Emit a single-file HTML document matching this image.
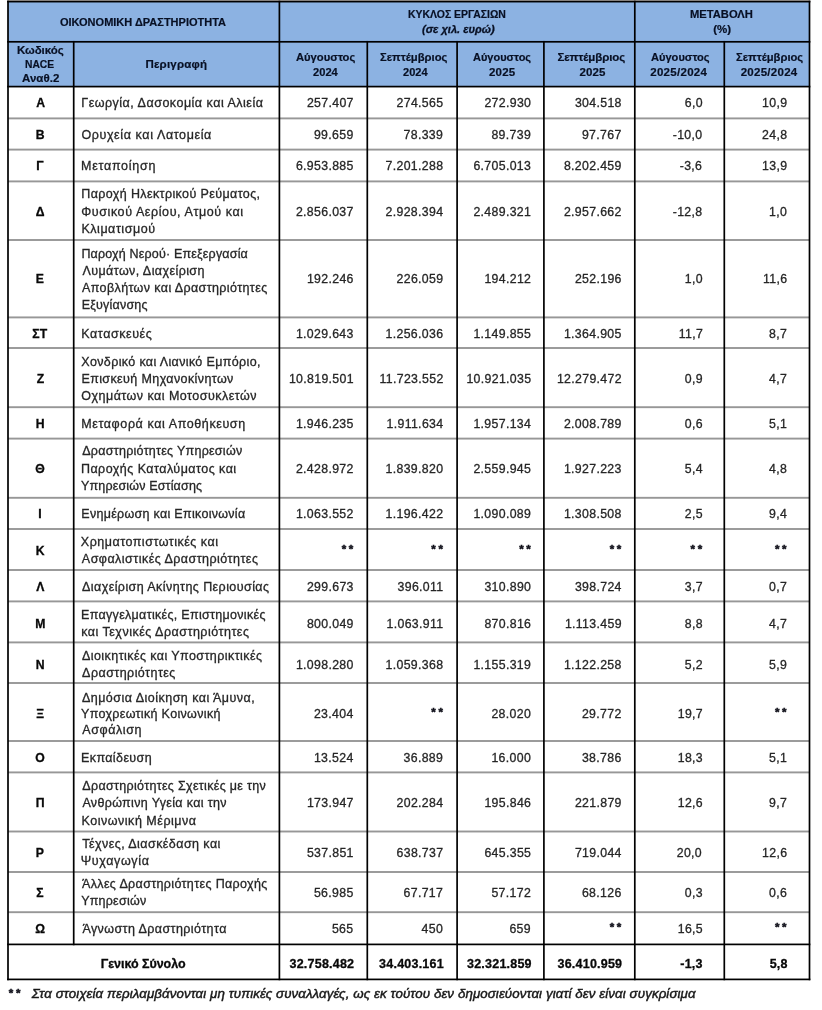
<!DOCTYPE html>
<html lang="el">
<head>
<meta charset="utf-8">
<title>Κύκλος Εργασιών ανά Οικονομική Δραστηριότητα</title>
<style>
html,body{margin:0;padding:0;background:#fff}
body{width:822px;height:1010px;position:relative;overflow:hidden;font-family:"Liberation Sans",sans-serif;color:#222}
#t{position:absolute;left:0;top:0;width:822px;height:1010px;filter:blur(0.55px)}
#grid{position:absolute;left:0;top:0}
.x{position:absolute;white-space:nowrap;line-height:20px;height:20px;transform-origin:0 50%}
.td{font-size:12.5px;font-weight:normal;font-style:normal;color:#262626;-webkit-text-stroke:0.3px #262626}
.tn{font-size:12.3px;font-weight:normal;font-style:normal;color:#262626;-webkit-text-stroke:0.3px #262626}
.tk{font-size:12.2px;font-weight:bold;font-style:normal;color:#080808;-webkit-text-stroke:0.3px #080808}
.th{font-size:11.5px;font-weight:bold;font-style:normal;color:#081024;-webkit-text-stroke:0.2px #081024}
.ti{font-size:11.5px;font-weight:bold;font-style:italic;color:#081024;-webkit-text-stroke:0.3px #081024}
.tt{font-size:12.5px;font-weight:bold;font-style:normal;color:#080808;-webkit-text-stroke:0.3px #080808}
.ts{font-size:11.5px;font-weight:bold;font-style:normal;color:#10101a;-webkit-text-stroke:0.5px #10101a}
.tf{font-size:13.3px;font-weight:normal;font-style:italic;color:#181818;-webkit-text-stroke:0.45px #181818}
</style>
</head>
<body>
<div id="t">
<svg id="grid" width="822" height="1010" viewBox="0 0 822 1010">
<rect x="7.2" y="0" width="803.1" height="1.2" fill="#b5aea8"/>
<rect x="8" y="1.6" width="801.5" height="85" fill="#8cb2e2"/>
<g fill="#979797">
<rect x="8" y="117.45" width="801.5" height="1.9"/>
<rect x="8" y="148.65" width="801.5" height="1.9"/>
<rect x="8" y="180.45" width="801.5" height="1.9"/>
<rect x="8" y="239.05" width="801.5" height="1.9"/>
<rect x="8" y="316.45" width="801.5" height="1.9"/>
<rect x="8" y="347.05" width="801.5" height="1.9"/>
<rect x="8" y="406.25" width="801.5" height="1.9"/>
<rect x="8" y="437.65" width="801.5" height="1.9"/>
<rect x="8" y="496.85" width="801.5" height="1.9"/>
<rect x="8" y="528.05" width="801.5" height="1.9"/>
<rect x="8" y="569.05" width="801.5" height="1.9"/>
<rect x="8" y="600.45" width="801.5" height="1.9"/>
<rect x="8" y="641.45" width="801.5" height="1.9"/>
<rect x="8" y="682.05" width="801.5" height="1.9"/>
<rect x="8" y="740.05" width="801.5" height="1.9"/>
<rect x="8" y="771.45" width="801.5" height="1.9"/>
<rect x="8" y="830.55" width="801.5" height="1.9"/>
<rect x="8" y="871.05" width="801.5" height="1.9"/>
<rect x="8" y="911.25" width="801.5" height="1.9"/>
</g>
<g fill="#000">
<rect x="7.15" y="0.75" width="803.2" height="1.7"/>
<rect x="7.15" y="40.95" width="803.2" height="1.7"/>
<rect x="7.15" y="85.75" width="803.2" height="1.7"/>
<rect x="7.15" y="943.55" width="803.2" height="1.7"/>
<rect x="7.15" y="978.55" width="803.2" height="1.7"/>
<rect x="7.15" y="0.75" width="1.7" height="979.5"/>
<rect x="72.85" y="40.95" width="1.7" height="904.3"/>
<rect x="278.55" y="0.75" width="1.7" height="979.5"/>
<rect x="366.45" y="40.95" width="1.7" height="939.3"/>
<rect x="456.25" y="40.95" width="1.7" height="939.3"/>
<rect x="543.05" y="40.95" width="1.7" height="939.3"/>
<rect x="633.95" y="0.75" width="1.7" height="979.5"/>
<rect x="723.45" y="40.95" width="1.7" height="939.3"/>
<rect x="808.65" y="0.75" width="1.7" height="979.5"/>
</g>
</svg>
<div class="hr">
<span class="x th" style="left:60.14px;top:12px;transform:scaleX(0.957)">ΟΙΚΟΝΟΜΙΚΗ ΔΡΑΣΤΗΡΙΟΤΗΤΑ</span>
<span class="x th" style="left:407.59px;top:4px;transform:scaleX(0.9094)">ΚΥΚΛΟΣ ΕΡΓΑΣΙΩΝ</span>
<span class="x ti" style="left:422.3px;top:19px;transform:scaleX(0.964)">(σε χιλ. ευρώ)</span>
<span class="x th" style="left:689.93px;top:4px;transform:scaleX(0.973)">ΜΕΤΑΒΟΛΗ</span>
<span class="x th" style="left:713.15px;top:19px;letter-spacing:0.05px">(%)</span>
</div>
<div class="hr">
<span class="x th" style="left:16.98px;top:40px;letter-spacing:-0.03px">Κωδικός</span>
<span class="x th" style="left:25.41px;top:54px;transform:scaleX(0.8935)">NACE</span>
<span class="x th" style="left:22.08px;top:68px;letter-spacing:0.01px">Αναθ.2</span>
<span class="x th" style="left:145.45px;top:54px;letter-spacing:0.21px">Περιγραφή</span>
<span class="x th" style="left:296.3px;top:47px;transform:scaleX(0.975)">Αύγουστος</span>
<span class="x th" style="left:312.7px;top:62px;transform:scaleX(0.9692)">2024</span>
<span class="x th" style="left:379.92px;top:47px;transform:scaleX(0.9791)">Σεπτέμβριος</span>
<span class="x th" style="left:402.6px;top:62px;transform:scaleX(0.9615)">2024</span>
<span class="x th" style="left:473.2px;top:47px;transform:scaleX(0.955)">Αύγουστος</span>
<span class="x th" style="left:489.1px;top:62px;letter-spacing:0.13px">2025</span>
<span class="x th" style="left:557.45px;top:47px;letter-spacing:-0.11px">Σεπτέμβριος</span>
<span class="x th" style="left:579.5px;top:62px;letter-spacing:0.13px">2025</span>
<span class="x th" style="left:650.5px;top:47px;transform:scaleX(0.9633)">Αύγουστος</span>
<span class="x th" style="left:650.2px;top:62px;letter-spacing:0.3px">2025/2024</span>
<span class="x th" style="left:735.52px;top:47px;transform:scaleX(0.9761)">Σεπτέμβριος</span>
<span class="x th" style="left:740.7px;top:62px;letter-spacing:0.27px">2025/2024</span>
</div>
<div class="row">
<span class="x tk" style="left:36.3px;top:93px;letter-spacing:0.2px">Α</span>
<span class="x td" style="left:81.25px;top:93px;letter-spacing:0.5px">Γεωργία, Δασοκομία και Αλιεία</span>
<span class="x tn" style="left:306.9px;top:93px;letter-spacing:0.35px">257.407</span>
<span class="x tn" style="left:396.5px;top:93px;letter-spacing:0.35px">274.565</span>
<span class="x tn" style="left:484.4px;top:93px;letter-spacing:0.35px">272.930</span>
<span class="x tn" style="left:574.9px;top:93px;letter-spacing:0.35px">304.518</span>
<span class="x tn" style="left:684.7px;top:93px;letter-spacing:0.35px">6,0</span>
<span class="x tn" style="left:762.1px;top:93px;letter-spacing:0.35px">10,9</span>
</div>
<div class="row">
<span class="x tk" style="left:35.8px;top:125px;letter-spacing:0.2px">Β</span>
<span class="x td" style="left:81.45px;top:125px;letter-spacing:0.61px">Ορυχεία και Λατομεία</span>
<span class="x tn" style="left:313.9px;top:125px;letter-spacing:0.35px">99.659</span>
<span class="x tn" style="left:403.5px;top:125px;letter-spacing:0.35px">78.339</span>
<span class="x tn" style="left:491.4px;top:125px;letter-spacing:0.35px">89.739</span>
<span class="x tn" style="left:581.9px;top:125px;letter-spacing:0.35px">97.767</span>
<span class="x tn" style="left:672.7px;top:125px;letter-spacing:0.35px">-10,0</span>
<span class="x tn" style="left:762.1px;top:125px;letter-spacing:0.35px">24,8</span>
</div>
<div class="row">
<span class="x tk" style="left:36.3px;top:156px;letter-spacing:0.2px">Γ</span>
<span class="x td" style="left:81px;top:156px;letter-spacing:0.73px">Μεταποίηση</span>
<span class="x tn" style="left:295.9px;top:156px;letter-spacing:0.35px">6.953.885</span>
<span class="x tn" style="left:385.5px;top:156px;letter-spacing:0.35px">7.201.288</span>
<span class="x tn" style="left:473.4px;top:156px;letter-spacing:0.35px">6.705.013</span>
<span class="x tn" style="left:563.9px;top:156px;letter-spacing:0.35px">8.202.459</span>
<span class="x tn" style="left:679.7px;top:156px;letter-spacing:0.35px">-3,6</span>
<span class="x tn" style="left:762.1px;top:156px;letter-spacing:0.35px">13,9</span>
</div>
<div class="row">
<span class="x tk" style="left:35.8px;top:202px;letter-spacing:0.2px">Δ</span>
<span class="x td" style="left:81.25px;top:184px;letter-spacing:0.39px">Παροχή Ηλεκτρικού Ρεύματος,</span>
<span class="x td" style="left:81.25px;top:202px;letter-spacing:0.59px">Φυσικού Αερίου, Ατμού και</span>
<span class="x td" style="left:81.4px;top:219px;letter-spacing:0.54px">Κλιματισμού</span>
<span class="x tn" style="left:295.9px;top:202px;letter-spacing:0.35px">2.856.037</span>
<span class="x tn" style="left:385.5px;top:202px;letter-spacing:0.35px">2.928.394</span>
<span class="x tn" style="left:473.4px;top:202px;letter-spacing:0.35px">2.489.321</span>
<span class="x tn" style="left:563.9px;top:202px;letter-spacing:0.35px">2.957.662</span>
<span class="x tn" style="left:672.7px;top:202px;letter-spacing:0.35px">-12,8</span>
<span class="x tn" style="left:769.1px;top:202px;letter-spacing:0.35px">1,0</span>
</div>
<div class="row">
<span class="x tk" style="left:35.8px;top:269px;letter-spacing:0.2px">Ε</span>
<span class="x td" style="left:81.4px;top:244px;letter-spacing:0.18px">Παροχή Νερού· Επεξεργασία</span>
<span class="x td" style="left:82.45px;top:261px;letter-spacing:0.42px">Λυμάτων, Διαχείριση</span>
<span class="x td" style="left:82px;top:278px;letter-spacing:0.39px">Αποβλήτων και Δραστηριότητες</span>
<span class="x td" style="left:81.65px;top:295px;letter-spacing:0.21px">Εξυγίανσης</span>
<span class="x tn" style="left:306.9px;top:269px;letter-spacing:0.35px">192.246</span>
<span class="x tn" style="left:396.5px;top:269px;letter-spacing:0.35px">226.059</span>
<span class="x tn" style="left:484.4px;top:269px;letter-spacing:0.35px">194.212</span>
<span class="x tn" style="left:574.9px;top:269px;letter-spacing:0.35px">252.196</span>
<span class="x tn" style="left:684.7px;top:269px;letter-spacing:0.35px">1,0</span>
<span class="x tn" style="left:763.1px;top:269px;letter-spacing:0.35px">11,6</span>
</div>
<div class="row">
<span class="x tk" style="left:32.3px;top:324px;letter-spacing:0.2px">ΣΤ</span>
<span class="x td" style="left:81.25px;top:324px;letter-spacing:0.57px">Κατασκευές</span>
<span class="x tn" style="left:295.9px;top:324px;letter-spacing:0.35px">1.029.643</span>
<span class="x tn" style="left:385.5px;top:324px;letter-spacing:0.35px">1.256.036</span>
<span class="x tn" style="left:473.4px;top:324px;letter-spacing:0.35px">1.149.855</span>
<span class="x tn" style="left:563.9px;top:324px;letter-spacing:0.35px">1.364.905</span>
<span class="x tn" style="left:678.7px;top:324px;letter-spacing:0.35px">11,7</span>
<span class="x tn" style="left:769.1px;top:324px;letter-spacing:0.35px">8,7</span>
</div>
<div class="row">
<span class="x tk" style="left:36.8px;top:369px;letter-spacing:0.2px">Ζ</span>
<span class="x td" style="left:81.25px;top:352px;letter-spacing:0.36px">Χονδρικό και Λιανικό Εμπόριο,</span>
<span class="x td" style="left:81.4px;top:369px;letter-spacing:0.4px">Επισκευή Μηχανοκίνητων</span>
<span class="x td" style="left:81.35px;top:386px;letter-spacing:0.47px">Οχημάτων και Μοτοσυκλετών</span>
<span class="x tn" style="left:288.9px;top:369px;letter-spacing:0.35px">10.819.501</span>
<span class="x tn" style="left:379.5px;top:369px;letter-spacing:0.35px">11.723.552</span>
<span class="x tn" style="left:466.4px;top:369px;letter-spacing:0.35px">10.921.035</span>
<span class="x tn" style="left:556.9px;top:369px;letter-spacing:0.35px">12.279.472</span>
<span class="x tn" style="left:684.7px;top:369px;letter-spacing:0.35px">0,9</span>
<span class="x tn" style="left:769.1px;top:369px;letter-spacing:0.35px">4,7</span>
</div>
<div class="row">
<span class="x tk" style="left:35.8px;top:414px;letter-spacing:0.2px">Η</span>
<span class="x td" style="left:81.25px;top:414px;letter-spacing:0.6px">Μεταφορά και Αποθήκευση</span>
<span class="x tn" style="left:295.9px;top:414px;letter-spacing:0.35px">1.946.235</span>
<span class="x tn" style="left:386.5px;top:414px;letter-spacing:0.35px">1.911.634</span>
<span class="x tn" style="left:473.4px;top:414px;letter-spacing:0.35px">1.957.134</span>
<span class="x tn" style="left:563.9px;top:414px;letter-spacing:0.35px">2.008.789</span>
<span class="x tn" style="left:684.7px;top:414px;letter-spacing:0.35px">0,6</span>
<span class="x tn" style="left:769.1px;top:414px;letter-spacing:0.35px">5,1</span>
</div>
<div class="row">
<span class="x tk" style="left:35.3px;top:459px;letter-spacing:0.2px">Θ</span>
<span class="x td" style="left:82.25px;top:441px;letter-spacing:0.27px">Δραστηριότητες Υπηρεσιών</span>
<span class="x td" style="left:80.9px;top:459px;letter-spacing:0.47px">Παροχής Καταλύματος και</span>
<span class="x td" style="left:81.05px;top:476px;letter-spacing:0.16px">Υπηρεσιών Εστίασης</span>
<span class="x tn" style="left:295.9px;top:459px;letter-spacing:0.35px">2.428.972</span>
<span class="x tn" style="left:385.5px;top:459px;letter-spacing:0.35px">1.839.820</span>
<span class="x tn" style="left:473.4px;top:459px;letter-spacing:0.35px">2.559.945</span>
<span class="x tn" style="left:563.9px;top:459px;letter-spacing:0.35px">1.927.223</span>
<span class="x tn" style="left:684.7px;top:459px;letter-spacing:0.35px">5,4</span>
<span class="x tn" style="left:769.1px;top:459px;letter-spacing:0.35px">4,8</span>
</div>
<div class="row">
<span class="x tk" style="left:38.3px;top:504px;letter-spacing:0.2px">Ι</span>
<span class="x td" style="left:81.25px;top:504px;letter-spacing:0.3px">Ενημέρωση και Επικοινωνία</span>
<span class="x tn" style="left:295.9px;top:504px;letter-spacing:0.35px">1.063.552</span>
<span class="x tn" style="left:385.5px;top:504px;letter-spacing:0.35px">1.196.422</span>
<span class="x tn" style="left:473.4px;top:504px;letter-spacing:0.35px">1.090.089</span>
<span class="x tn" style="left:563.9px;top:504px;letter-spacing:0.35px">1.308.508</span>
<span class="x tn" style="left:684.7px;top:504px;letter-spacing:0.35px">2,5</span>
<span class="x tn" style="left:769.1px;top:504px;letter-spacing:0.35px">9,4</span>
</div>
<div class="row">
<span class="x tk" style="left:35.8px;top:541px;letter-spacing:0.2px">Κ</span>
<span class="x td" style="left:80.8px;top:532px;letter-spacing:0.51px">Χρηματοπιστωτικές και</span>
<span class="x td" style="left:81.85px;top:549px;letter-spacing:0.47px">Ασφαλιστικές Δραστηριότητες</span>
<span class="x ts" style="left:341.7px;top:539px;letter-spacing:2.7px">**</span>
<span class="x ts" style="left:431.3px;top:539px;letter-spacing:2.7px">**</span>
<span class="x ts" style="left:519.2px;top:539px;letter-spacing:2.7px">**</span>
<span class="x ts" style="left:609.7px;top:539px;letter-spacing:2.7px">**</span>
<span class="x ts" style="left:690.5px;top:539px;letter-spacing:2.7px">**</span>
<span class="x ts" style="left:774.9px;top:539px;letter-spacing:2.7px">**</span>
</div>
<div class="row">
<span class="x tk" style="left:36.3px;top:577px;letter-spacing:0.2px">Λ</span>
<span class="x td" style="left:82px;top:577px;letter-spacing:0.43px">Διαχείριση Ακίνητης Περιουσίας</span>
<span class="x tn" style="left:306.9px;top:577px;letter-spacing:0.35px">299.673</span>
<span class="x tn" style="left:397.5px;top:577px;letter-spacing:0.35px">396.011</span>
<span class="x tn" style="left:484.4px;top:577px;letter-spacing:0.35px">310.890</span>
<span class="x tn" style="left:574.9px;top:577px;letter-spacing:0.35px">398.724</span>
<span class="x tn" style="left:684.7px;top:577px;letter-spacing:0.35px">3,7</span>
<span class="x tn" style="left:769.1px;top:577px;letter-spacing:0.35px">0,7</span>
</div>
<div class="row">
<span class="x tk" style="left:35.3px;top:614px;letter-spacing:0.2px">Μ</span>
<span class="x td" style="left:81.1px;top:605px;letter-spacing:0.31px">Επαγγελματικές, Επιστημονικές</span>
<span class="x td" style="left:81.15px;top:622px;letter-spacing:0.5px">και Τεχνικές Δραστηριότητες</span>
<span class="x tn" style="left:306.9px;top:614px;letter-spacing:0.35px">800.049</span>
<span class="x tn" style="left:386.5px;top:614px;letter-spacing:0.35px">1.063.911</span>
<span class="x tn" style="left:484.4px;top:614px;letter-spacing:0.35px">870.816</span>
<span class="x tn" style="left:564.9px;top:614px;letter-spacing:0.35px">1.113.459</span>
<span class="x tn" style="left:684.7px;top:614px;letter-spacing:0.35px">8,8</span>
<span class="x tn" style="left:769.1px;top:614px;letter-spacing:0.35px">4,7</span>
</div>
<div class="row">
<span class="x tk" style="left:35.8px;top:655px;letter-spacing:0.2px">Ν</span>
<span class="x td" style="left:82px;top:646px;letter-spacing:0.43px">Διοικητικές και Υποστηρικτικές</span>
<span class="x td" style="left:82.1px;top:663px;letter-spacing:0.45px">Δραστηριότητες</span>
<span class="x tn" style="left:295.9px;top:655px;letter-spacing:0.35px">1.098.280</span>
<span class="x tn" style="left:385.5px;top:655px;letter-spacing:0.35px">1.059.368</span>
<span class="x tn" style="left:473.4px;top:655px;letter-spacing:0.35px">1.155.319</span>
<span class="x tn" style="left:563.9px;top:655px;letter-spacing:0.35px">1.122.258</span>
<span class="x tn" style="left:684.7px;top:655px;letter-spacing:0.35px">5,2</span>
<span class="x tn" style="left:769.1px;top:655px;letter-spacing:0.35px">5,9</span>
</div>
<div class="row">
<span class="x tk" style="left:36.3px;top:704px;letter-spacing:0.2px">Ξ</span>
<span class="x td" style="left:81.9px;top:688px;letter-spacing:0.48px">Δημόσια Διοίκηση και Άμυνα,</span>
<span class="x td" style="left:81.05px;top:704px;letter-spacing:0.33px">Υποχρεωτική Κοινωνική</span>
<span class="x td" style="left:82.25px;top:720px;letter-spacing:0.59px">Ασφάλιση</span>
<span class="x tn" style="left:313.9px;top:704px;letter-spacing:0.35px">23.404</span>
<span class="x ts" style="left:431.3px;top:702px;letter-spacing:2.7px">**</span>
<span class="x tn" style="left:491.4px;top:704px;letter-spacing:0.35px">28.020</span>
<span class="x tn" style="left:581.9px;top:704px;letter-spacing:0.35px">29.772</span>
<span class="x tn" style="left:677.7px;top:704px;letter-spacing:0.35px">19,7</span>
<span class="x ts" style="left:774.9px;top:702px;letter-spacing:2.7px">**</span>
</div>
<div class="row">
<span class="x tk" style="left:35.3px;top:748px;letter-spacing:0.2px">Ο</span>
<span class="x td" style="left:81px;top:748px;letter-spacing:0.4px">Εκπαίδευση</span>
<span class="x tn" style="left:313.9px;top:748px;letter-spacing:0.35px">13.524</span>
<span class="x tn" style="left:403.5px;top:748px;letter-spacing:0.35px">36.889</span>
<span class="x tn" style="left:491.4px;top:748px;letter-spacing:0.35px">16.000</span>
<span class="x tn" style="left:581.9px;top:748px;letter-spacing:0.35px">38.786</span>
<span class="x tn" style="left:677.7px;top:748px;letter-spacing:0.35px">18,3</span>
<span class="x tn" style="left:769.1px;top:748px;letter-spacing:0.35px">5,1</span>
</div>
<div class="row">
<span class="x tk" style="left:35.8px;top:793px;letter-spacing:0.2px">Π</span>
<span class="x td" style="left:82.35px;top:776px;letter-spacing:0.32px">Δραστηριότητες Σχετικές με την</span>
<span class="x td" style="left:82.4px;top:793px;letter-spacing:0.34px">Ανθρώπινη Υγεία και την</span>
<span class="x td" style="left:81.45px;top:811px;letter-spacing:0.53px">Κοινωνική Μέριμνα</span>
<span class="x tn" style="left:306.9px;top:793px;letter-spacing:0.35px">173.947</span>
<span class="x tn" style="left:396.5px;top:793px;letter-spacing:0.35px">202.284</span>
<span class="x tn" style="left:484.4px;top:793px;letter-spacing:0.35px">195.846</span>
<span class="x tn" style="left:574.9px;top:793px;letter-spacing:0.35px">221.879</span>
<span class="x tn" style="left:677.7px;top:793px;letter-spacing:0.35px">12,6</span>
<span class="x tn" style="left:769.1px;top:793px;letter-spacing:0.35px">9,7</span>
</div>
<div class="row">
<span class="x tk" style="left:35.8px;top:843px;letter-spacing:0.2px">Ρ</span>
<span class="x td" style="left:82.3px;top:834px;letter-spacing:0.44px">Τέχνες, Διασκέδαση και</span>
<span class="x td" style="left:80.75px;top:851px;letter-spacing:0.64px">Ψυχαγωγία</span>
<span class="x tn" style="left:306.9px;top:843px;letter-spacing:0.35px">537.851</span>
<span class="x tn" style="left:396.5px;top:843px;letter-spacing:0.35px">638.737</span>
<span class="x tn" style="left:484.4px;top:843px;letter-spacing:0.35px">645.355</span>
<span class="x tn" style="left:574.9px;top:843px;letter-spacing:0.35px">719.044</span>
<span class="x tn" style="left:676.7px;top:843px;letter-spacing:0.35px">20,0</span>
<span class="x tn" style="left:762.1px;top:843px;letter-spacing:0.35px">12,6</span>
</div>
<div class="row">
<span class="x tk" style="left:36.3px;top:883px;letter-spacing:0.2px">Σ</span>
<span class="x td" style="left:82px;top:874px;letter-spacing:0.36px">Άλλες Δραστηριότητες Παροχής</span>
<span class="x td" style="left:81.15px;top:891px;letter-spacing:0.24px">Υπηρεσιών</span>
<span class="x tn" style="left:313.9px;top:883px;letter-spacing:0.35px">56.985</span>
<span class="x tn" style="left:403.5px;top:883px;letter-spacing:0.35px">67.717</span>
<span class="x tn" style="left:491.4px;top:883px;letter-spacing:0.35px">57.172</span>
<span class="x tn" style="left:581.9px;top:883px;letter-spacing:0.35px">68.126</span>
<span class="x tn" style="left:684.7px;top:883px;letter-spacing:0.35px">0,3</span>
<span class="x tn" style="left:769.1px;top:883px;letter-spacing:0.35px">0,6</span>
</div>
<div class="row">
<span class="x tk" style="left:35.3px;top:919px;letter-spacing:0.2px">Ω</span>
<span class="x td" style="left:82.4px;top:919px;letter-spacing:0.42px">Άγνωστη Δραστηριότητα</span>
<span class="x tn" style="left:331.9px;top:919px;letter-spacing:0.35px">565</span>
<span class="x tn" style="left:421.5px;top:919px;letter-spacing:0.35px">450</span>
<span class="x tn" style="left:509.4px;top:919px;letter-spacing:0.35px">659</span>
<span class="x ts" style="left:609.7px;top:917px;letter-spacing:2.7px">**</span>
<span class="x tn" style="left:677.7px;top:919px;letter-spacing:0.35px">16,5</span>
<span class="x ts" style="left:774.9px;top:917px;letter-spacing:2.7px">**</span>
</div>
<div class="row">
<span class="x tt" style="left:100.75px;top:954px;letter-spacing:-0.04px">Γενικό Σύνολο</span>
<span class="x tt" style="left:289.5px;top:954px;letter-spacing:0.22px">32.758.482</span>
<span class="x tt" style="left:379.1px;top:954px;letter-spacing:0.22px">34.403.161</span>
<span class="x tt" style="left:467px;top:954px;letter-spacing:0.22px">32.321.859</span>
<span class="x tt" style="left:557.5px;top:954px;letter-spacing:0.22px">36.410.959</span>
<span class="x tt" style="left:680.3px;top:954px;letter-spacing:0.22px">-1,3</span>
<span class="x tt" style="left:769.7px;top:954px;letter-spacing:0.22px">5,8</span>
</div>
<div class="foot">
<span class="x ts" style="left:8.8px;top:983px;letter-spacing:2.7px">**</span>
<span class="x tf" style="left:31.7px;top:984px;letter-spacing:0.1px">Στα στοιχεία περιλαμβάνονται μη τυπικές συναλλαγές, ως εκ τούτου δεν δημοσιεύονται γιατί δεν είναι συγκρίσιμα</span>
</div>
</div>
</body>
</html>
